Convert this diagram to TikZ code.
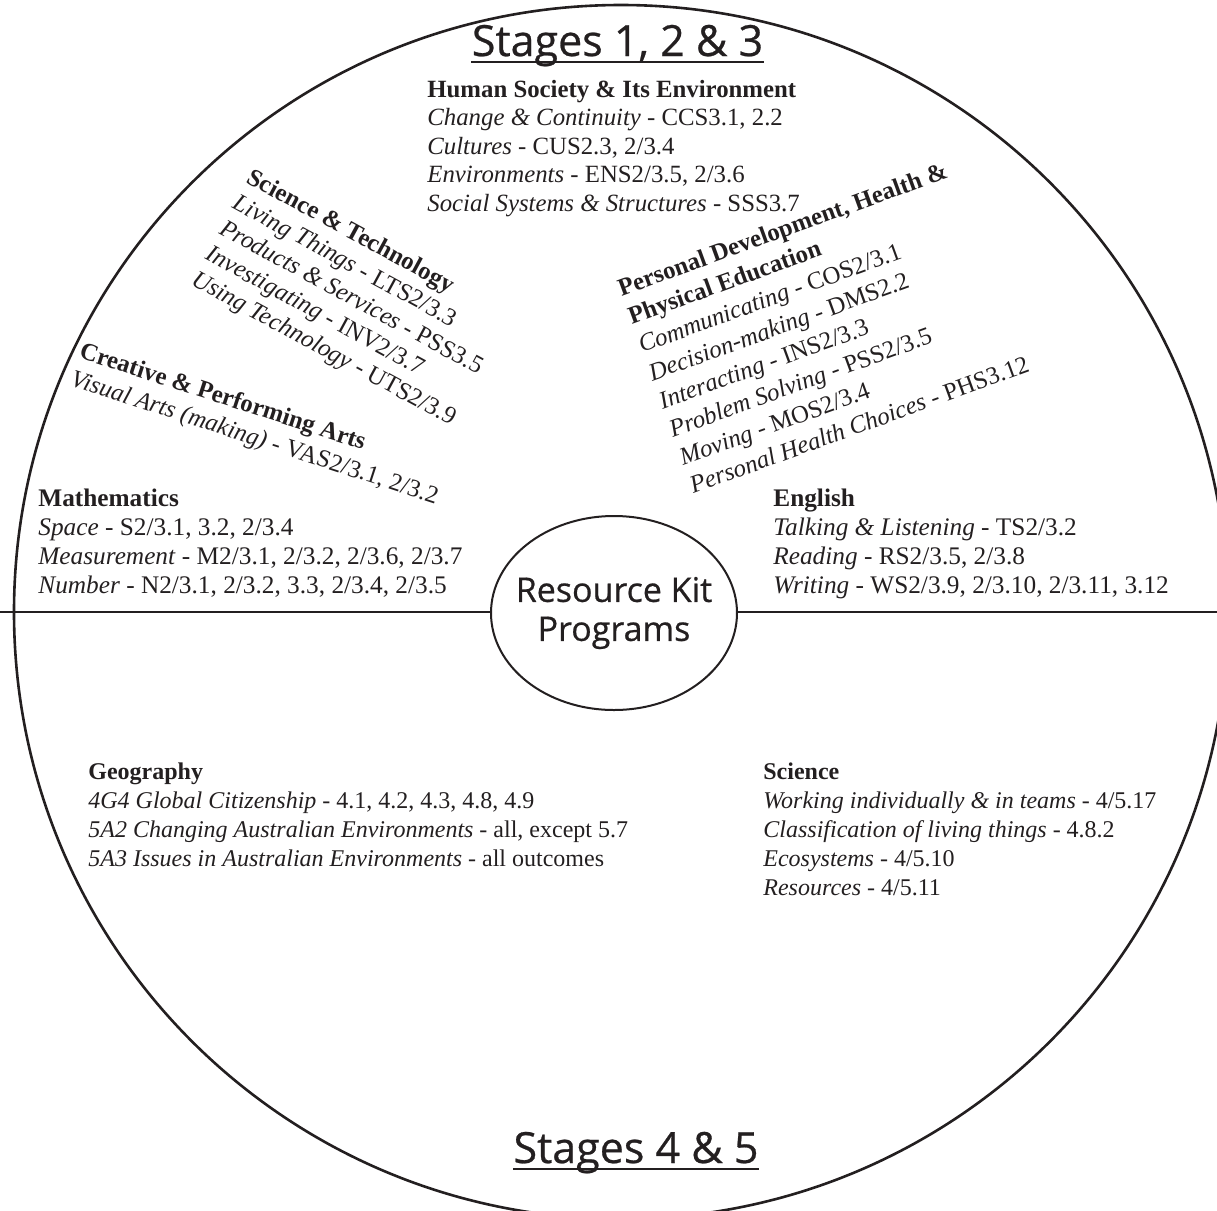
\documentclass[tikz,border=0pt]{standalone}
\usepackage{fontspec}
\setmainfont{Liberation Serif}
\newfontfamily\headfont[FakeBold=0.6]{Open Sans}
\usepackage{tikz}
\usetikzlibrary{positioning}
\definecolor{ink}{HTML}{231F20}

\tikzset{
  block/.style={anchor=base west, align=left, inner sep=0pt, text=ink,
    font=\fontsize{12.4}{14.5}\selectfont},
  title/.style={anchor=base, inner sep=0pt, text=ink,
    font=\headfont\fontsize{21.5}{26}\selectfont},
}

\begin{document}
\begin{tikzpicture}[x=0.5pt,y=-0.5pt]
      \useasboundingbox (0,0) rectangle (1217,1211);
      \clip (0,0) rectangle (1217,1211);
      % Outer circle and dividing line
      \draw[ink, line width=1.3pt] (621,612) circle[radius=607];
      \draw[ink, line width=1.3pt] (0,612) -- (1217,612);
      % Hub
      \coordinate (hubc) at (614,613);
      \draw[ink, line width=1pt, fill=white] (hubc) ellipse[x radius=123, y radius=97];
      \node[text=ink, align=center, inner sep=0pt,
        font=\headfont\fontsize{17}{19.5}\selectfont] (hub) at (hubc) {Resource Kit\\Programs};
      % Titles
      \node[title] (upper) at (617.5,56) {Stages 1, 2 \& 3};
      \draw[ink, line width=1.2pt] ([yshift=-3pt]upper.base west) -- ([yshift=-3pt]upper.base east);
      \node[title] (lower) at (636,1163) {Stages 4 \& 5};
      \draw[ink, line width=1.2pt] ([yshift=-3pt]lower.base west) -- ([yshift=-3pt]lower.base east);
      % Stages 1, 2 & 3 (blocks sit on the baseline of their last line)
      \node[block, font=\fontsize{12.4}{14.25}\selectfont] (hsie) at (427,211) {\textbf{Human Society \& Its Environment}\\
        \textit{Change \& Continuity} - CCS3.1, 2.2\\
        \textit{Cultures} - CUS2.3, 2/3.4\\
        \textit{Environments} - ENS2/3.5, 2/3.6\\
        \textit{Social Systems \& Structures} - SSS3.7};
      \node[block, rotate=-28.5] (scitech) at (190,284) {\textbf{Science \& Technology}\\
        \textit{Living Things} - LTS2/3.3\\
        \textit{Products \& Services} - PSS3.5\\
        \textit{Investigating} - INV2/3.7\\
        \textit{Using Technology} - UTS2/3.9};
      \node[block, rotate=-18] (capa) at (69,385) {\textbf{Creative \& Performing Arts}\\
        \textit{Visual Arts (making)} - VAS2/3.1, 2/3.2};
      \node[block, rotate=20, font=\fontsize{12.4}{15}\selectfont] (pdhpe) at (693,494) {\textbf{Personal Development, Health \&}\\
        \textbf{Physical Education}\\
        \textit{Communicating} - COS2/3.1\\
        \textit{Decision-making} - DMS2.2\\
        \textit{Interacting} - INS2/3.3\\
        \textit{Problem Solving} - PSS2/3.5\\
        \textit{Moving} - MOS2/3.4\\
        \textit{Personal Health Choices} - PHS3.12};
      \node[block, font=\fontsize{12.65}{14.5}\selectfont] (maths) at (38,593) {\textbf{Mathematics}\\
        \textit{Space} - S2/3.1, 3.2, 2/3.4\\
        \textit{Measurement} - M2/3.1, 2/3.2, 2/3.6, 2/3.7\\
        \textit{Number} - N2/3.1, 2/3.2, 3.3, 2/3.4, 2/3.5};
      \node[block, font=\fontsize{12.65}{14.5}\selectfont] (english) at (773,593) {\textbf{English}\\
        \textit{Talking \& Listening} - TS2/3.2\\
        \textit{Reading} - RS2/3.5, 2/3.8\\
        \textit{Writing} - WS2/3.9, 2/3.10, 2/3.11, 3.12};
      % Stages 4 & 5
      \node[block, font=\fontsize{12}{14.5}\selectfont] (geog) at (88,866) {\textbf{Geography}\\
        \textit{4G4 Global Citizenship} - 4.1, 4.2, 4.3, 4.8, 4.9\\
        \textit{5A2 Changing Australian Environments} - all, except 5.7\\
        \textit{5A3 Issues in Australian Environments} - all outcomes};
      \node[block, font=\fontsize{12}{14.5}\selectfont] (science) at (763,895) {\textbf{Science}\\
        \textit{Working individually \& in teams} - 4/5.17\\
        \textit{Classification of living things} - 4.8.2\\
        \textit{Ecosystems} - 4/5.10\\
        \textit{Resources} - 4/5.11};
    \end{tikzpicture}
\end{document}
